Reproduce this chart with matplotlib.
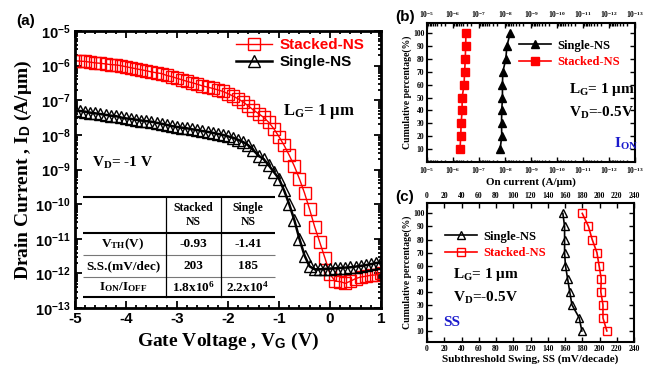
import numpy as np
import matplotlib
matplotlib.use('Agg')
import matplotlib.pyplot as plt
from matplotlib.ticker import LogLocator, MultipleLocator, NullFormatter, FixedLocator

plt.rcParams['mathtext.fontset'] = 'custom'
plt.rcParams['mathtext.rm'] = 'Liberation Serif:bold'
plt.rcParams['mathtext.bf'] = 'Liberation Sans:bold'
plt.rcParams['mathtext.it'] = 'Liberation Serif:italic:bold'
plt.rcParams['mathtext.sf'] = 'Liberation Sans:bold'

SANS = 'Liberation Sans'
SERIF = 'Liberation Serif'

# ---------------- data: panel (a) ----------------
vg = np.round(np.arange(-5.0, 1.0001, 0.1), 1)
id_stacked = [1.38e-6, 1.35e-6, 1.32e-6, 1.26e-6, 1.20e-6, 1.17e-6, 1.12e-6, 1.07e-6, 1.05e-6, 1.00e-6,
              9.3e-7, 8.7e-7, 8.1e-7, 7.6e-7, 7.1e-7, 6.6e-7, 6.2e-7, 5.9e-7, 5.2e-7, 4.8e-7,
              4.3e-7, 3.9e-7, 3.5e-7, 3.2e-7, 2.9e-7, 2.6e-7, 2.4e-7, 2.2e-7, 2.0e-7, 1.8e-7,
              1.55e-7, 1.32e-7, 1.10e-7, 8.9e-8, 6.8e-8, 5.2e-8, 4.1e-8, 3.2e-8, 2.3e-8, 1.5e-8,
              8.9e-9, 5.0e-9, 2.6e-9, 1.26e-9, 5.4e-10, 2.1e-10, 7.1e-11, 2.2e-11, 7.9e-12, 2.8e-12,
              9.5e-13, 6.0e-13, 5.8e-13, 5.2e-13, 6.0e-13, 7.1e-13, 7.9e-13, 8.3e-13, 8.9e-13, 9.1e-13,
              1.05e-12]
id_single = [5.1e-8, 4.9e-8, 4.7e-8, 4.4e-8, 4.2e-8, 4.0e-8, 3.8e-8, 3.6e-8, 3.5e-8, 3.2e-8,
             3.0e-8, 2.9e-8, 2.75e-8, 2.6e-8, 2.5e-8, 2.4e-8, 2.24e-8, 2.1e-8, 1.95e-8, 1.8e-8,
             1.7e-8, 1.62e-8, 1.55e-8, 1.45e-8, 1.38e-8, 1.29e-8, 1.23e-8, 1.15e-8, 1.07e-8, 1.0e-8,
             9.1e-9, 8.3e-9, 7.2e-9, 6.2e-9, 5.0e-9, 3.6e-9, 2.5e-9, 2.0e-9, 1.32e-9, 8.5e-10,
             5.4e-10, 2.5e-10, 1.0e-10, 3.5e-11, 1.0e-11, 3.3e-12, 1.6e-12, 1.32e-12, 1.32e-12, 1.35e-12,
             1.38e-12, 1.41e-12, 1.45e-12, 1.48e-12, 1.51e-12, 1.58e-12, 1.66e-12, 1.74e-12, 1.86e-12, 2.0e-12,
             2.1e-12]

table_cols = ["Stacked\nNS", "Single\nNS"]
table_rows = [r"V$_\mathrm{TH}$(V)", "S.S.(mV/dec)", r"I$_\mathrm{ON}$/I$_\mathrm{OFF}$"]
table_vals = [["-0.93", "-1.41"], ["203", "185"], [r"1.8x10$^\mathrm{6}$", r"2.2x10$^\mathrm{4}$"]]

# ---------------- data: panels (b), (c) ----------------
percent = [10, 20, 30, 40, 50, 60, 70, 80, 90, 100]
ion_stacked = [5.4e-7, 5.1e-7, 4.9e-7, 4.5e-7, 4.5e-7, 3.8e-7, 3.6e-7, 3.4e-7, 3.3e-7, 3.2e-7]
ion_single = [1.56e-8, 1.35e-8, 1.38e-8, 1.35e-8, 1.27e-8, 1.27e-8, 1.23e-8, 9.4e-9, 8.6e-9, 6.4e-9]
ss_single = [179.5, 176.5, 168.0, 165.5, 163.0, 160.5, 159.5, 159.5, 159.5, 157.5]
ss_stacked = [208.5, 204.0, 204.0, 201.5, 202.0, 199.5, 197.0, 191.5, 187.2, 180.0]

fig = plt.figure(figsize=(6.57, 3.69), dpi=100)

# ================= panel (a) =================
ax = fig.add_axes([0.114, 0.165, 0.466, 0.751])
ax.plot(vg, id_stacked, color='red', lw=1.0, marker='s', ms=8, mfc='none', mec='red', mew=1.0,
        label='Stacked-NS')
ax.plot(vg, id_single, color='black', lw=1.8, marker='^', ms=8, mfc='none', mec='black', mew=1.0,
        label='Single-NS')
ax.set_yscale('log')
ax.set_xlim(-5, 1)
ax.set_ylim(1e-13, 1e-5)
ax.set_xticks(range(-5, 2))
ax.set_xticklabels([str(v) for v in range(-5, 2)], fontfamily=SANS, fontweight='bold', fontsize=11)
ax.xaxis.set_minor_locator(MultipleLocator(0.2))
ydec = list(range(-13, -4))
ax.yaxis.set_major_locator(FixedLocator([10.0 ** d for d in ydec]))
ax.set_yticklabels([r"$\mathbf{10^{%d}}$" % d for d in ydec], fontsize=10.5)
ax.yaxis.set_minor_locator(LogLocator(base=10, subs=np.arange(2, 10), numticks=20))
ax.yaxis.set_minor_formatter(NullFormatter())
ax.tick_params(which='both', direction='in', top=True, right=True, width=1.3)
ax.tick_params(which='major', length=5, pad=3)
ax.tick_params(which='minor', length=2.5)
for s in ax.spines.values():
    s.set_linewidth(2.0)
ax.set_xlabel(r"Gate Voltage , V$_\mathbf{G}$ (V)", fontfamily=SERIF, fontweight='bold', fontsize=14, labelpad=3)
ax.set_ylabel(r"Drain Current , I$_\mathbf{D}$ (A/μm)", fontfamily=SERIF, fontweight='bold', fontsize=14, labelpad=1)
leg = ax.legend(loc='upper left', bbox_to_anchor=(0.525, 0.975), frameon=False, borderpad=0, borderaxespad=0,
                handlelength=2.4, handletextpad=0.5, labelspacing=0.2,
                prop=dict(family=SANS, weight='bold', size=11), labelcolor=['red', 'black'])
ax.text(0.68, 0.71, r"L$_\mathrm{G}$= 1 μm", transform=ax.transAxes, fontfamily=SERIF, fontweight='bold',
        fontsize=12, ha='left', va='center')
ax.text(0.055, 0.525, r"V$_\mathrm{D}$= -1 V", transform=ax.transAxes, fontfamily=SERIF, fontweight='bold',
        fontsize=11, ha='left', va='center')
fig.text(0.024, 0.943, "(a)", fontfamily=SANS, fontweight='bold', fontsize=11, ha='left', va='center')

# table
tx0, tx1 = 0.026, 0.654
vx = [0.296, 0.476]
hy = [0.402, 0.270, 0.191, 0.113, 0.039]
for i, y in enumerate(hy):
    if i in (0, 1, 4):
        ax.plot([tx0, tx1], [y, y], transform=ax.transAxes, color='black', lw=1.5, solid_capstyle='butt')
    else:
        ax.plot([tx0, tx1], [y, y], transform=ax.transAxes, color='#777777', lw=0.8, solid_capstyle='butt')
for x in vx:
    ax.plot([x, x], [hy[-1], hy[0]], transform=ax.transAxes, color='black', lw=0.9)
colx = [0.157, 0.386, 0.565]
rowy = [0.336, 0.231, 0.152, 0.076]
for j, c in enumerate(table_cols):
    ax.text(colx[j + 1], rowy[0], c, transform=ax.transAxes, fontfamily=SERIF, fontweight='bold',
            fontsize=8.5, ha='center', va='center', linespacing=1.15)
for i, r in enumerate(table_rows):
    ax.text(colx[0], rowy[i + 1], r, transform=ax.transAxes, fontfamily=SERIF, fontweight='bold',
            fontsize=9.5, ha='center', va='center')
    for j in range(2):
        ax.text(colx[j + 1], rowy[i + 1], table_vals[i][j], transform=ax.transAxes, fontfamily=SERIF,
                fontweight='bold', fontsize=9.5, ha='center', va='center')

# ================= panel (b) =================
bx = fig.add_axes([0.650, 0.561, 0.317, 0.377])
bx.plot(ion_single, percent, color='black', lw=1.2, marker='^', ms=5.5, mfc='black', mec='black',
        label='Single-NS')
bx.plot(ion_stacked, percent, color='red', lw=1.2, marker='s', ms=5.5, mfc='red', mec='red',
        label='Stacked-NS')
bx.set_xscale('log')
bx.set_xlim(1e-5, 1e-13)
bx.set_ylim(0, 108)
bdec = list(range(-5, -14, -1))
bx.xaxis.set_major_locator(FixedLocator([10.0 ** d for d in bdec]))
bx.set_xticklabels([r"$\mathrm{10^{%d}}$" % d for d in bdec], fontsize=5.5)
bx.xaxis.set_minor_locator(LogLocator(base=10, subs=np.arange(2, 10), numticks=20))
bx.xaxis.set_minor_formatter(NullFormatter())
bx.set_yticks(percent)
bx.set_yticklabels([str(p) for p in percent], fontfamily=SERIF, fontweight='bold', fontsize=5.5)
bx.tick_params(which='both', direction='in', top=True, right=True, labeltop=True, width=1.0)
bx.tick_params(which='major', length=3.5, pad=2)
bx.tick_params(which='minor', length=1.8)
for s in bx.spines.values():
    s.set_linewidth(1.5)
bx.set_xlabel("On current (A/μm)", fontfamily=SERIF, fontweight='bold', fontsize=8, labelpad=1)
bx.set_ylabel("Cumulative percentage(%)", fontfamily=SERIF, fontweight='bold', fontsize=7, labelpad=1)
bx.legend(loc='upper left', bbox_to_anchor=(0.44, 0.88), frameon=False, borderpad=0, borderaxespad=0,
          handlelength=2.6, handletextpad=0.5, labelspacing=0.35,
          prop=dict(family=SERIF, weight='bold', size=9), labelcolor=['black', 'red'])
bx.text(0.68, 0.52, r"L$_\mathrm{G}$= 1 μm", transform=bx.transAxes, fontfamily=SERIF, fontweight='bold',
        fontsize=11, ha='left', va='center')
bx.text(0.68, 0.355, r"V$_\mathrm{D}$=-0.5V", transform=bx.transAxes, fontfamily=SERIF, fontweight='bold',
        fontsize=11, ha='left', va='center')
bx.text(0.90, 0.13, r"I$_\mathrm{ON}$", transform=bx.transAxes, fontfamily=SERIF, fontweight='bold',
        fontsize=11, color='#1a1acc', ha='left', va='center')
fig.text(0.602, 0.955, "(b)", fontfamily=SANS, fontweight='bold', fontsize=11, ha='left', va='center')

# ================= panel (c) =================
cx = fig.add_axes([0.650, 0.073, 0.315, 0.377])
cx.plot(ss_single, percent, color='black', lw=1.2, marker='^', ms=5.5, mfc='none', mec='black', mew=1.0,
        label='Single-NS')
cx.plot(ss_stacked, percent, color='red', lw=1.2, marker='s', ms=5.5, mfc='none', mec='red', mew=1.0,
        label='Stacked-NS')
cx.set_xlim(0, 240)
cx.set_ylim(1.5, 108)
xt = list(range(0, 241, 20))
cx.set_xticks(xt)
cx.set_xticklabels([str(v) for v in xt], fontfamily=SERIF, fontweight='bold', fontsize=5.5)
cx.set_yticks(percent)
cx.set_yticklabels([str(p) for p in percent], fontfamily=SERIF, fontweight='bold', fontsize=5.5)
cx.tick_params(which='both', direction='in', top=True, right=True, labeltop=True, width=1.0)
cx.tick_params(which='major', length=3.5, pad=2)
for s in cx.spines.values():
    s.set_linewidth(1.5)
cx.set_xlabel("Subthreshold Swing, SS (mV/decade)", fontfamily=SERIF, fontweight='bold', fontsize=8, labelpad=1)
cx.set_ylabel("Cumulative percentage(%)", fontfamily=SERIF, fontweight='bold', fontsize=7, labelpad=1)
cx.legend(loc='upper left', bbox_to_anchor=(0.085, 0.80), frameon=False, borderpad=0, borderaxespad=0,
          handlelength=2.6, handletextpad=0.5, labelspacing=0.35,
          prop=dict(family=SERIF, weight='bold', size=9), labelcolor=['black', 'red'])
cx.text(0.125, 0.485, r"L$_\mathrm{G}$= 1 μm", transform=cx.transAxes, fontfamily=SERIF, fontweight='bold',
        fontsize=11, ha='left', va='center')
cx.text(0.125, 0.32, r"V$_\mathrm{D}$=-0.5V", transform=cx.transAxes, fontfamily=SERIF, fontweight='bold',
        fontsize=11, ha='left', va='center')
cx.text(0.08, 0.14, "SS", transform=cx.transAxes, fontfamily=SERIF, fontweight='bold',
        fontsize=11, color='#1a1acc', ha='left', va='center')
fig.text(0.602, 0.465, "(c)", fontfamily=SANS, fontweight='bold', fontsize=11, ha='left', va='center')

fig.savefig('out.png', dpi=100)
